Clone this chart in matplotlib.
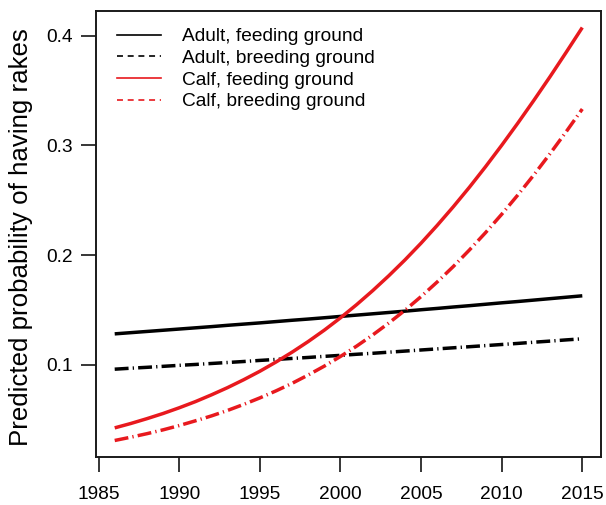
import matplotlib
matplotlib.use("Agg")
import matplotlib.pyplot as plt
from matplotlib.lines import Line2D
import numpy as np

plt.rcParams['font.family'] = ['Liberation Sans', 'DejaVu Sans']
plt.rcParams['lines.scale_dashes'] = False

years = list(range(1986, 2016))

adult_feeding = [0.1282, 0.1293, 0.1304, 0.1315, 0.1326, 0.1337, 0.1348, 0.1360,
                 0.1371, 0.1382, 0.1394, 0.1406, 0.1417, 0.1429, 0.1441, 0.1453,
                 0.1465, 0.1477, 0.1489, 0.1502, 0.1514, 0.1527, 0.1539, 0.1552,
                 0.1565, 0.1577, 0.1590, 0.1603, 0.1616, 0.1629]
adult_breeding = [0.0960, 0.0969, 0.0977, 0.0986, 0.0995, 0.1003, 0.1012, 0.1021,
                  0.1030, 0.1040, 0.1049, 0.1058, 0.1067, 0.1077, 0.1086, 0.1096,
                  0.1105, 0.1115, 0.1125, 0.1135, 0.1145, 0.1155, 0.1165, 0.1175,
                  0.1185, 0.1195, 0.1206, 0.1216, 0.1227, 0.1237]
calf_feeding = [0.0425, 0.0465, 0.0509, 0.0556, 0.0608, 0.0664, 0.0726, 0.0792,
                0.0864, 0.0941, 0.1025, 0.1115, 0.1212, 0.1316, 0.1428, 0.1548,
                0.1676, 0.1812, 0.1956, 0.2109, 0.2271, 0.2441, 0.2619, 0.2806,
                0.3001, 0.3203, 0.3412, 0.3627, 0.3849, 0.4075]
calf_breeding = [0.0310, 0.0340, 0.0372, 0.0407, 0.0446, 0.0489, 0.0534, 0.0584,
                 0.0639, 0.0698, 0.0762, 0.0831, 0.0907, 0.0988, 0.1076, 0.1170,
                 0.1272, 0.1381, 0.1497, 0.1622, 0.1755, 0.1896, 0.2047, 0.2205,
                 0.2372, 0.2548, 0.2732, 0.2925, 0.3125, 0.3332]

labels = ["Adult, feeding ground", "Adult, breeding ground",
          "Calf, feeding ground", "Calf, breeding ground"]
x_ticks = [1985, 1990, 1995, 2000, 2005, 2010, 2015]
y_ticks = [0.1, 0.2, 0.3, 0.4]
ylabel = "Predicted probability of having rakes"

RED = "#e8191e"
dashdot = (0, (10.0, 3.0, 0.9, 3.0))

fig = plt.figure(figsize=(6.06, 5.05), dpi=100)
ax = fig.add_axes([96/606, 1-457/505, 505/606, 446/505])

lw = 2.5
ax.plot(years, adult_feeding, color="black", lw=lw, solid_capstyle="butt")
ax.plot(years, adult_breeding, color="black", lw=lw, ls=dashdot, dash_capstyle="butt")
ax.plot(years, calf_feeding, color=RED, lw=lw, solid_capstyle="butt")
ax.plot(years, calf_breeding, color=RED, lw=lw, ls=dashdot, dash_capstyle="butt")

# R-style 4% axis extension
allv = adult_feeding + adult_breeding + calf_feeding + calf_breeding
ymin, ymax = min(allv), max(allv)
yr = ymax - ymin
ax.set_ylim(ymin - 0.04*yr, ymax + 0.04*yr)
xr = years[-1] - years[0]
ax.set_xlim(years[0] - 0.04*xr, years[-1] + 0.04*xr)

ax.set_xticks(x_ticks)
ax.set_xticklabels([str(t) for t in x_ticks])
ax.set_yticks(y_ticks)
ax.set_yticklabels([str(t) for t in y_ticks])
ax.tick_params(axis='both', direction='out', length=10.5, width=1.1, labelsize=13.8,
               color="black")
ax.tick_params(axis='x', pad=10.5)
ax.tick_params(axis='y', pad=6.5)
for s in ax.spines.values():
    s.set_linewidth(1.4)
    s.set_color("#1a1a1a")

ax.set_ylabel(ylabel, fontsize=18.6)
ax.yaxis.set_label_coords(-0.124, 0.492)

dash = (0, (4.3, 3.4))
handles = [Line2D([], [], color="black", lw=1.2),
           Line2D([], [], color="black", lw=1.2, ls=dash),
           Line2D([], [], color=RED, lw=1.2),
           Line2D([], [], color=RED, lw=1.2, ls=dash)]
ax.legend(handles, labels, loc="upper left", bbox_to_anchor=(0.041, 0.962),
          frameon=False, fontsize=13.8, handlelength=2.3, handletextpad=1.1,
          labelspacing=0.22, borderpad=0, borderaxespad=0)

fig.savefig("out.png", dpi=100)
